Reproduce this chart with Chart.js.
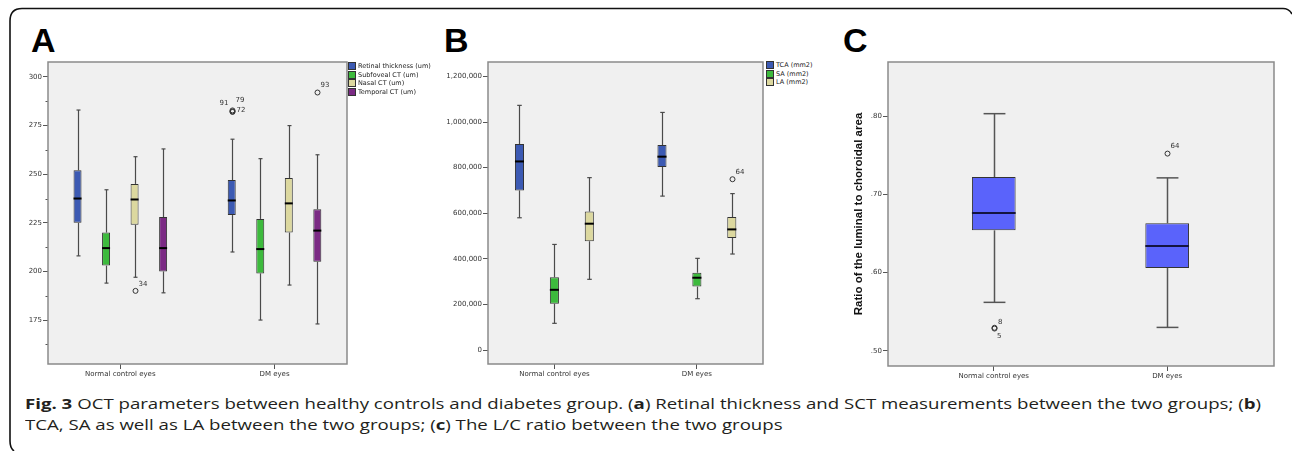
<!DOCTYPE html>
<html><head><meta charset="utf-8">
<script src="https://cdn.jsdelivr.net/npm/chart.js@4.4.0/dist/chart.umd.min.js"></script>
<style>
html,body{margin:0;padding:0;background:#fff}
body{width:1292px;height:451px;position:relative;overflow:hidden}
canvas.cv{position:absolute}
.letter{position:absolute;font:bold 34px "Liberation Sans",Arial,sans-serif;line-height:34px;color:#000}
.legend{position:absolute;font:6.5px "DejaVu Sans",sans-serif;color:#222}
.legend .row{height:8.6px;display:flex;align-items:center;white-space:nowrap}
.legend .sw{width:6px;height:6px;border:0.6px solid #333;margin-right:2px;box-sizing:content-box}
.cap{position:absolute;left:25px;font-family:"Open Sans",sans-serif;color:#231f20;white-space:nowrap;transform-origin:0 0}
svg{position:absolute;left:0;top:0}
</style>
</head><body>
<svg width="1292" height="451"><path d="M10,441 L10,21 Q10,8.5 22,8.5 L1283,8.5 Q1289,8.5 1292,14 M10,441 Q10,448 14,451" fill="none" stroke="#111" stroke-width="1.6"/></svg>
<div class="letter" style="left:31px;top:23px">A</div>
<div class="letter" style="left:444px;top:23px">B</div>
<div class="letter" style="left:843px;top:23px">C</div>
<canvas id="chartA" class="cv" width="350" height="330" style="left:0;top:55px"></canvas>
<canvas id="chartB" class="cv" width="336" height="330" style="left:430px;top:55px"></canvas>
<canvas id="chartC" class="cv" width="438" height="332" style="left:840px;top:55px"></canvas>
<div id="legA" class="legend" style="left:348px;top:62px"></div>
<div id="legB" class="legend" style="left:766px;top:61px"></div>
<div id="cap1" class="cap"><b>Fig. 3</b> OCT parameters between healthy controls and diabetes group. (<b>a</b>) Retinal thickness and SCT measurements between the two groups; (<b>b</b>)</div>
<div id="cap2" class="cap">TCA, SA as well as LA between the two groups; (<b>c</b>) The L/C ratio between the two groups</div>
<script>
// ---------- DATA ----------
const groups = ['Normal control eyes', 'DM eyes'];

// Panel A: five-number summaries [min, q1, median, q3, max] per group
const aSeries = ['Retinal thickness (um)', 'Subfoveal CT (um)', 'Nasal CT (um)', 'Temporal CT (um)'];
const aRetinal   = [[208, 225, 237.5, 252, 283], [210, 229, 236.5, 247, 268]];
const aSubfoveal = [[194, 203, 212, 220, 242],   [175, 199, 211.5, 227, 258]];
const aNasal     = [[197, 224, 237, 245, 259],   [193, 220, 235, 248, 275]];
const aTemporal  = [[189, 200, 212, 228, 263],   [173, 205, 221, 232, 260]];
const aOutliers  = [
  {series: 2, group: 0, value: 190, id: '34'},
  {series: 0, group: 1, value: 282.3, id: '91'},
  {series: 0, group: 1, value: 282.8, id: '79'},
  {series: 0, group: 1, value: 282, id: '72'},
  {series: 3, group: 1, value: 292, id: '93'}
];
const aTicks = [175, 200, 225, 250, 275, 300];
const aMinorTicks = [162.5, 187.5, 212.5, 237.5, 262.5, 287.5];

// Panel B
const bSeries = ['TCA (mm2)', 'SA (mm2)', 'LA (mm2)'];
const bTCA = [[580000, 700000, 827000, 903000, 1073000], [675000, 803000, 848000, 899000, 1042000]];
const bSA  = [[117000, 203000, 264000, 319000, 463000],  [225000, 278000, 317000, 339000, 402000]];
const bLA  = [[310000, 477000, 554000, 607000, 756000],  [421000, 491000, 529000, 583000, 686000]];
const bOutliers = [{series: 2, group: 1, value: 749000, id: '64'}];
const bTicks = [0, 200000, 400000, 600000, 800000, 1000000, 1200000];

// Panel C
const cSeries = ['L/C ratio'];
const cRatio = [[0.562, 0.654, 0.676, 0.722, 0.803], [0.530, 0.606, 0.634, 0.663, 0.721]];
const cOutliers = [
  {series: 0, group: 0, value: 0.5295, id: '8'},
  {series: 0, group: 0, value: 0.5285, id: '5'},
  {series: 0, group: 1, value: 0.752, id: '64'}
];
const cTicks = [0.50, 0.60, 0.70, 0.80];
const cTitle = 'Ratio of the luminal to choroidal area';

// ---------- STYLE ----------
const labelPlace = {'34': [3, -7, 'left'], '91': [-4, -8, 'right'], '79': [3, -10, 'left'], '72': [4, -1.5, 'left'],
                    '93': [3, -7, 'left'], '64': [3, -7.5, 'left'], '8': [3.5, -6, 'left'], '5': [2.5, 8, 'left']};
const colorsA = ['#3c5ab3', '#3dba3d', '#dcd89f', '#7b2a84'];
const colorsB = ['#3c5ab3', '#3dba3d', '#dcd89f'];
const colorsC = ['#5a63fb'];
const TICK_FONT = {family: 'DejaVu Sans', size: 7};

function boxChart(id, cfg) {
  const datasets = cfg.series.map((name, si) => ({
    label: name,
    data: cfg.stats[si].map((s, gi) => ({x: gi + 1, y: [s[1], s[3]]})),
    stats: cfg.stats[si],
    backgroundColor: cfg.colors[si],
    borderColor: cfg.boxBorder,
    borderWidth: 1,
    borderSkipped: false,
    categoryPercentage: cfg.catPct,
    barPercentage: cfg.barPct
  }));
  const plugin = {
    id: 'box_' + id,
    beforeDraw(chart) {
      const {ctx, chartArea: a} = chart;
      ctx.save(); ctx.fillStyle = '#f0f0f0'; ctx.fillRect(a.left, a.top, a.right - a.left, a.bottom - a.top); ctx.restore();
    },
    afterDatasetsDraw(chart) {
      const ctx = chart.ctx, ys = chart.scales.y;
      const line = (x1, y1, x2, y2) => { ctx.beginPath(); ctx.moveTo(x1, y1); ctx.lineTo(x2, y2); ctx.stroke(); };
      ctx.save();
      chart.data.datasets.forEach((ds, di) => {
        const meta = chart.getDatasetMeta(di);
        meta.data.forEach((el, gi) => {
          const s = ds.stats[gi];
          const x = Math.round(el.x) + 0.5, hw = el.width / 2, cap = el.width / 4;
          const pMin = ys.getPixelForValue(s[0]), pQ1 = ys.getPixelForValue(s[1]);
          const pMed = ys.getPixelForValue(s[2]), pQ3 = ys.getPixelForValue(s[3]), pMax = ys.getPixelForValue(s[4]);
          ctx.strokeStyle = cfg.whiskerColor; ctx.lineWidth = cfg.whiskerWidth;
          line(x, pQ3, x, pMax); line(x, pQ1, x, pMin);
          line(x - cap, pMax, x + cap, pMax); line(x - cap, pMin, x + cap, pMin);
          ctx.strokeStyle = cfg.medianColor; ctx.lineWidth = 2;
          line(el.x - hw, pMed, el.x + hw, pMed);
        });
      });
      ctx.font = '7px "DejaVu Sans"'; ctx.fillStyle = '#333'; ctx.textBaseline = 'middle';
      cfg.outliers.forEach(o => {
        const el = chart.getDatasetMeta(o.series).data[o.group];
        const x = Math.round(el.x) + 0.5, y = ys.getPixelForValue(o.value);
        ctx.strokeStyle = '#333'; ctx.lineWidth = 1;
        ctx.beginPath(); ctx.arc(x, y, 2.5, 0, Math.PI * 2); ctx.stroke();
        const p = labelPlace[o.id];
        ctx.textAlign = p[2];
        ctx.fillText(o.id, x + p[0], y + p[1]);
      });
      ctx.restore();
    },
    afterDraw(chart) {
      const {ctx, chartArea: a} = chart, ys = chart.scales.y;
      ctx.save();
      ctx.strokeStyle = '#8a8a8a'; ctx.lineWidth = 1.5;
      ctx.strokeRect(a.left, a.top, a.right - a.left, a.bottom - a.top);
      if (cfg.minor) {
        ctx.strokeStyle = '#555'; ctx.lineWidth = 1;
        cfg.minor.forEach(v => { const y = Math.round(ys.getPixelForValue(v)) + 0.5;
          ctx.beginPath(); ctx.moveTo(a.left - 2.5, y); ctx.lineTo(a.left - 0.5, y); ctx.stroke(); });
      }
      ctx.restore();
    }
  };
  const axisGrid = {display: true, drawOnChartArea: false, drawTicks: true, tickLength: 5, color: '#555', lineWidth: 1, offset: false};
  return new Chart(document.getElementById(id), {
    type: 'bar',
    data: {datasets},
    options: {
      responsive: false, animation: false, devicePixelRatio: 1,
      layout: {padding: cfg.pad},
      plugins: {legend: {display: false}, tooltip: {enabled: false}, title: {display: false}},
      scales: {
        x: {
          type: 'linear', min: cfg.xMin, max: cfg.xMax, offset: false,
          afterBuildTicks: s => { s.ticks = groups.map((g, i) => ({value: i + 1})); },
          afterFit: s => { s.height = cfg.xHeight; },
          grid: axisGrid, border: {display: false},
          ticks: {callback: (v, i) => groups[i], font: TICK_FONT, color: '#333', padding: 1, maxRotation: 0, autoSkip: false}
        },
        y: {
          type: 'linear', min: cfg.yMin, max: cfg.yMax, beginAtZero: false,
          afterBuildTicks: s => { s.ticks = cfg.yTicks.map(v => ({value: v})); },
          afterFit: s => { s.width = cfg.yWidth; },
          grid: axisGrid, border: {display: false},
          ticks: {callback: v => cfg.yFmt(v), font: TICK_FONT, color: '#333', padding: 1, autoSkip: false},
          title: cfg.yTitle ? {display: true, text: cfg.yTitle, color: '#111',
                   font: {family: 'Liberation Sans', size: 11.5, weight: 'bold', lineHeight: 1.2},
                   padding: {top: 12.4, bottom: 0}} : {display: false}
        }
      }
    },
    plugins: [plugin]
  });
}

boxChart('chartA', {
  series: aSeries, stats: [aRetinal, aSubfoveal, aNasal, aTemporal], outliers: aOutliers, colors: colorsA,
  yMin: 152.4, yMax: 307.7, yTicks: aTicks, minor: aMinorTicks, yFmt: v => String(v),
  xMin: 0.531, xMax: 2.47, catPct: 0.74, barPct: 0.28,
  pad: {left: 0, top: 7, right: 3, bottom: 0}, yWidth: 48, xHeight: 21,
  boxBorder: '#333', whiskerColor: '#4a4a4a', whiskerWidth: 1.2, medianColor: '#000'
});
boxChart('chartB', {
  series: bSeries, stats: [bTCA, bSA, bLA], outliers: bOutliers, colors: colorsB,
  yMin: -61400, yMax: 1263200, yTicks: bTicks, yFmt: v => v.toLocaleString('en-US'),
  xMin: 0.534, xMax: 2.464, catPct: 0.735, barPct: 0.26,
  pad: {left: 0, top: 7, right: 3, bottom: 0}, yWidth: 58, xHeight: 21,
  boxBorder: '#333', whiskerColor: '#4a4a4a', whiskerWidth: 1.2, medianColor: '#000'
});
boxChart('chartC', {
  series: cSeries, stats: [cRatio], outliers: cOutliers, colors: colorsC,
  yMin: 0.4807, yMax: 0.869, yTicks: cTicks, yFmt: v => v.toFixed(2).replace(/^0/, ''), yTitle: cTitle,
  xMin: 0.39, xMax: 2.616, catPct: 1, barPct: 0.252,
  pad: {left: 0, top: 7, right: 4, bottom: 0}, yWidth: 48, xHeight: 21,
  boxBorder: '#333', whiskerColor: '#555', whiskerWidth: 1.5, medianColor: '#141440'
});

function legend(elId, names, colors) {
  const el = document.getElementById(elId);
  names.forEach((n, i) => {
    const r = document.createElement('div'); r.className = 'row';
    const sw = document.createElement('span'); sw.className = 'sw'; sw.style.background = colors[i];
    const t = document.createElement('span'); t.textContent = n;
    r.appendChild(sw); r.appendChild(t); el.appendChild(r);
  });
}
legend('legA', aSeries, colorsA);
legend('legB', bSeries, colorsB);

// caption: condensed look — keep cap height, squeeze horizontally so line 1 spans x 25..1261
(function () {
  const c1 = document.getElementById('cap1'), c2 = document.getElementById('cap2');
  const fs = 15;
  [c1, c2].forEach(c => { c.style.fontSize = fs + 'px'; c.style.lineHeight = fs + 'px'; });
  const w = c1.getBoundingClientRect().width;
  const k = 1236 / w;
  [c1, c2].forEach(c => { c.style.transform = 'scaleX(' + k.toFixed(4) + ')'; });
  c1.style.top = (409 - 0.888 * fs) + 'px';
  c2.style.top = (430.7 - 0.888 * fs) + 'px';
})();
</script>
</body></html>
